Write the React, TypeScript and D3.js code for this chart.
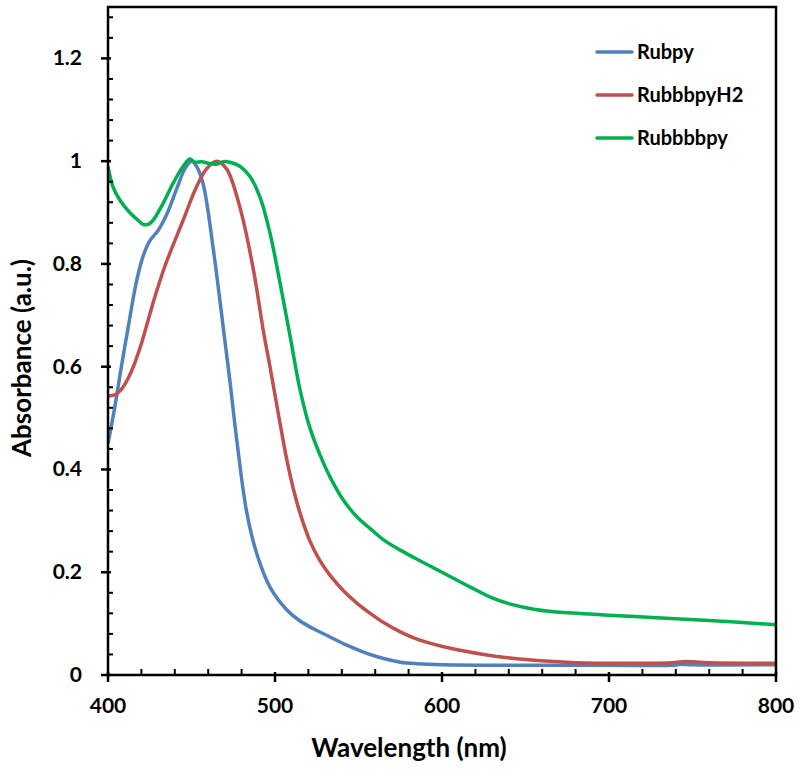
import React from "react";
import * as d3 from "d3";

const rubpyWl = [400, 404, 408, 412, 417, 421, 425, 430, 435, 441, 446, 450, 453, 457, 463, 470, 473, 477, 483, 489, 497, 507, 515, 523, 533, 543, 555, 565, 575, 585, 600, 650, 700, 738, 743, 750, 800];
const rubpyAbs = [0.45, 0.52, 0.6, 0.675, 0.765, 0.815, 0.845, 0.865, 0.895, 0.945, 0.985, 1.0, 0.99, 0.955, 0.83, 0.65, 0.572, 0.46, 0.318, 0.237, 0.171, 0.127, 0.105, 0.09, 0.074, 0.058, 0.042, 0.032, 0.025, 0.022, 0.02, 0.019, 0.019, 0.019, 0.021, 0.02, 0.02];

const rubbbpyH2Wl = [400, 404, 408, 412, 416, 420, 424, 428, 434, 440, 445, 453, 459, 465, 471, 479, 487, 493, 497, 503, 507, 511, 515, 521, 527, 533, 541, 549, 557, 565, 575, 585, 605, 625, 650, 680, 720, 738, 744, 760, 800];
const rubbbpyH2Abs = [0.543, 0.545, 0.556, 0.577, 0.607, 0.645, 0.69, 0.735, 0.795, 0.845, 0.885, 0.95, 0.985, 1.0, 0.985, 0.91, 0.79, 0.67, 0.6, 0.49, 0.42, 0.362, 0.315, 0.26, 0.222, 0.194, 0.164, 0.14, 0.12, 0.102, 0.084, 0.07, 0.052, 0.04, 0.03, 0.024, 0.023, 0.024, 0.026, 0.024, 0.023];

const rubbbbpyWl = [400, 403, 407, 413, 418, 421, 424, 427, 433, 439, 445, 449, 452, 456, 460, 465, 469, 473, 479, 485, 491, 497, 503, 509, 515, 521, 527, 533, 541, 549, 557, 565, 575, 587, 600, 617, 630, 641, 655, 667, 697, 737, 760, 800];
const rubbbbpyAbs = [0.99, 0.95, 0.925, 0.9, 0.885, 0.877, 0.877, 0.885, 0.918, 0.957, 0.99, 1.004, 0.998, 0.999, 0.996, 0.994, 0.999, 0.998, 0.99, 0.97, 0.93, 0.86, 0.763, 0.66, 0.555, 0.48, 0.428, 0.385, 0.34, 0.308, 0.285, 0.263, 0.243, 0.222, 0.2, 0.171, 0.15, 0.138, 0.128, 0.123, 0.117, 0.11, 0.106, 0.098];

const seriesNames = ["Rubpy", "RubbbpyH2", "Rubbbbpy"];
const seriesColors = ["#4F81BD", "#C0504D", "#00B050"];

const xMajorTicks = [400, 500, 600, 700, 800];
const yMajorTicks = [0, 0.2, 0.4, 0.6, 0.8, 1, 1.2];
const yTickLabels = ["0", "0.2", "0.4", "0.6", "0.8", "1", "1.2"];

const xTitle = "Wavelength (nm)";
const yTitle = "Absorbance (a.u.)";

export default function App() {
  const left = 108, right = 776, top = 7, bottom = 675;
  const x = d3.scaleLinear().domain([400, 800]).range([left, right]);
  const y = d3.scaleLinear().domain([0, 1.3]).range([bottom, top]);

  const series = [
    { wl: rubpyWl, ab: rubpyAbs },
    { wl: rubbbpyH2Wl, ab: rubbbpyH2Abs },
    { wl: rubbbbpyWl, ab: rubbbbpyAbs },
  ];

  const line = d3
    .line<[number, number]>()
    .x((d) => x(d[0]))
    .y((d) => y(d[1]))
    .curve(d3.curveCatmullRom.alpha(0.5));

  const xMinor = d3.range(400, 801, 20).filter((v) => v % 100 !== 0);
  const yMinorAll = d3
    .range(1, 33)
    .map((i) => +(i * 0.04).toFixed(2))
    .filter((v) => v < 1.3 && Math.abs(v * 5 - Math.round(v * 5)) > 1e-6);

  const font = "Lato, 'Open Sans', sans-serif";

  return (
    <svg width={800} height={771} style={{ position: "absolute", left: 0, top: 0, background: "#fff" }} fontFamily={font}>
      <rect x={0} y={0} width={800} height={771} fill="#fff" />
      <defs>
        <clipPath id="clip">
          <rect x={left} y={top} width={right - left} height={bottom - top} />
        </clipPath>
      </defs>
      <g clipPath="url(#clip)">
        {series.map((s, i) => (
          <path
            key={i}
            d={line(s.wl.map((w, j) => [w, s.ab[j]] as [number, number])) || ""}
            fill="none"
            stroke={seriesColors[i]}
            strokeWidth={3.5}
            strokeLinejoin="round"
          />
        ))}
      </g>
      <rect x={left} y={top} width={right - left} height={bottom - top} fill="none" stroke="#000" strokeWidth={2.5} />
      {xMajorTicks.map((v) => (
        <g key={"xm" + v}>
          <line x1={x(v)} x2={x(v)} y1={bottom - 3} y2={bottom + 7} stroke="#000" strokeWidth={2.5} />
          <text x={x(v)} y={bottom + 38} textAnchor="middle" fontSize={21} fontWeight="bold">{v}</text>
        </g>
      ))}
      {xMinor.map((v) => (
        <line key={"xn" + v} x1={x(v)} x2={x(v)} y1={bottom} y2={bottom - 6} stroke="#000" strokeWidth={2} />
      ))}
      {yMajorTicks.map((v, i) => (
        <g key={"ym" + v}>
          <line x1={left - 7} x2={left + 3} y1={y(v)} y2={y(v)} stroke="#000" strokeWidth={2.5} />
          <text x={left - 26} y={y(v) + 7} textAnchor="end" fontSize={21} fontWeight="bold">{yTickLabels[i]}</text>
        </g>
      ))}
      {yMinorAll.map((v) => (
        <line key={"yn" + v} x1={left} x2={left + 5} y1={y(v)} y2={y(v)} stroke="#000" strokeWidth={2} />
      ))}
      <text x={409} y={757} textAnchor="middle" fontSize={26} fontWeight="bold">{xTitle}</text>
      <text transform={`translate(31, 358) rotate(-90)`} textAnchor="middle" fontSize={26} fontWeight="bold">{yTitle}</text>
      {seriesNames.map((n, i) => (
        <g key={n}>
          <line x1={597} x2={632} y1={52 + i * 43} y2={52 + i * 43} stroke={seriesColors[i]} strokeWidth={3.5} strokeLinecap="round" />
          <text x={637} y={52 + i * 43 + 7} fontSize={20} fontWeight="bold">{n}</text>
        </g>
      ))}
    </svg>
  );
}
